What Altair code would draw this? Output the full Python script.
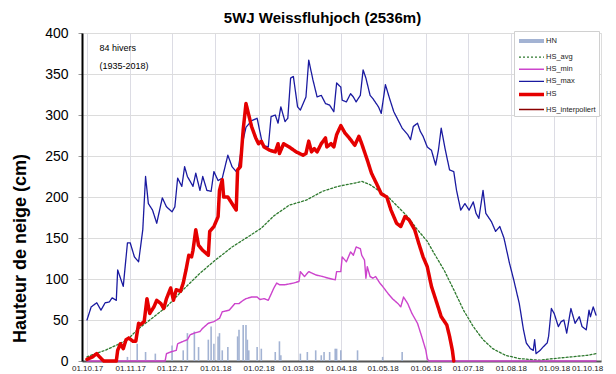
import altair as alt
import pandas as pd

START = "2017-10-01"

SERIES = ["HN", "HS_avg", "HS_min", "HS_max", "HS", "HS_interpoliert"]
COLORS = ["#a3b3d3", "#2f7a2f", "#cc44cc", "#1a1aa0", "#e50000", "#8b0000"]
DASHES = [[1, 0], [2, 2], [1, 0], [1, 0], [1, 0], [1, 0]]
WIDTHS = [4, 1.3, 1.4, 1.3, 3.5, 1.3]

hs_max_days = [0, 3, 7, 10, 13, 16, 18, 21, 22, 26, 29, 31, 34, 37, 40, 42, 44, 47, 50, 54, 57, 61, 63, 65, 68, 70, 72, 76, 78, 81, 83, 86, 89, 91, 94, 97, 101, 104, 108, 111, 114, 118, 122, 126, 130, 132, 135, 137, 139, 142, 144, 146, 148, 151, 153, 157, 159, 162, 165, 168, 171, 174, 177, 179, 182, 183, 186, 189, 191, 193, 196, 198, 200, 203, 205, 209, 211, 214, 217, 220, 223, 226, 230, 232, 234, 237, 239, 241, 244, 247, 250, 252, 254, 257, 260, 263, 265, 268, 271, 274, 277, 279, 281, 284, 286, 290, 293, 296, 299, 303, 306, 310, 313, 315, 318, 320, 321, 322, 325, 327, 330, 331, 333, 335, 338, 340, 342, 344, 347, 350, 353, 355, 358, 360, 361, 363, 365]
hs_max_vals = [50, 66, 71, 62, 71, 72, 77, 74, 111, 91, 144, 144, 127, 121, 160, 225, 192, 184, 168, 199, 188, 182, 188, 223, 213, 237, 225, 213, 229, 208, 225, 208, 207, 231, 220, 223, 251, 237, 229, 262, 285, 293, 296, 263, 261, 298, 300, 290, 310, 292, 296, 345, 347, 310, 306, 322, 367, 343, 322, 324, 314, 312, 304, 339, 334, 318, 316, 326, 322, 316, 324, 355, 345, 324, 320, 310, 302, 337, 320, 304, 294, 284, 276, 270, 286, 290, 280, 274, 261, 257, 239, 257, 284, 257, 233, 231, 208, 184, 192, 184, 194, 180, 174, 208, 180, 170, 158, 164, 150, 119, 99, 70, 38, 22, 15, 13, 26, 9, 13, 17, 22, 30, 64, 58, 42, 48, 50, 34, 64, 46, 54, 42, 38, 62, 54, 66, 56]

hs_days = [0, 4, 7, 9, 12, 21, 22, 24, 26, 28, 30, 33, 35, 37, 38, 41, 43, 45, 48, 50, 53, 55, 57, 60, 62, 64, 67, 69, 71, 73, 75, 76, 78, 80, 83, 87, 88, 91, 94, 95, 97, 98, 101, 104, 107, 108, 110, 112, 114, 116, 118, 121, 123, 125, 127, 131, 135, 137, 138, 141, 145, 150, 155, 157, 159, 161, 163, 165, 168, 171, 172, 175, 177, 179, 182, 185, 189, 192, 195, 197, 201, 204, 208, 211, 215, 218, 222, 225, 228, 231, 235, 238, 241, 244, 247, 251, 254, 258, 260, 262, 263]
hs_vals = [2, 5, 9, 5, 0, 0, 13, 21, 15, 26, 28, 24, 24, 46, 44, 48, 76, 58, 66, 74, 70, 64, 76, 89, 74, 87, 85, 95, 111, 129, 127, 135, 160, 141, 135, 129, 158, 164, 176, 208, 221, 200, 200, 192, 184, 233, 237, 282, 314, 300, 286, 272, 265, 268, 261, 257, 255, 265, 253, 265, 261, 255, 251, 253, 268, 255, 259, 255, 265, 272, 261, 265, 261, 276, 287, 278, 270, 263, 274, 265, 245, 229, 215, 204, 200, 184, 168, 164, 176, 172, 160, 143, 127, 115, 91, 70, 54, 44, 30, 13, 0]

hs_min_days = [0, 56, 57, 60, 64, 65, 69, 72, 74, 77, 81, 83, 87, 91, 95, 97, 102, 106, 109, 112, 114, 118, 122, 124, 127, 130, 134, 136, 138, 142, 148, 152, 153, 156, 159, 164, 169, 173, 178, 179, 182, 183, 186, 189, 191, 193, 196, 197, 199, 200, 201, 203, 205, 207, 210, 212, 216, 219, 223, 225, 227, 230, 233, 237, 240, 243, 244, 245, 365]
hs_min_vals = [0, 0, 9, 11, 13, 21, 24, 26, 32, 34, 36, 40, 46, 48, 52, 60, 62, 70, 70, 74, 76, 78, 78, 75, 76, 74, 89, 95, 93, 93, 95, 97, 109, 103, 109, 105, 103, 101, 99, 109, 109, 127, 121, 133, 129, 139, 137, 129, 123, 101, 115, 103, 101, 103, 95, 91, 82, 76, 70, 66, 78, 70, 58, 46, 30, 13, 3, 0, 0]

hs_avg_days = [0, 6, 13, 22, 29, 36, 45, 57, 69, 81, 92, 104, 116, 125, 134, 145, 157, 169, 180, 192, 197, 203, 209, 216, 223, 230, 237, 244, 249, 256, 263, 270, 277, 284, 291, 300, 310, 324, 335, 347, 359, 365]
hs_avg_vals = [5, 9, 13, 20, 26, 38, 50, 66, 87, 107, 123, 139, 152, 162, 177, 190, 196, 207, 213, 217, 219, 215, 208, 200, 188, 176, 160, 146, 131, 111, 87, 62, 42, 26, 15, 7, 3, 1, 3, 5, 7, 9]

hn_days = [29, 36, 42, 49, 61, 69, 72, 77, 80, 87, 89, 91, 94, 95, 97, 101, 108, 109, 112, 114, 115, 116, 122, 125, 135, 138, 139, 153, 158, 164, 168, 170, 174, 178, 179, 182, 194, 212, 226]
hn_vals = [5, 21, 11, 9, 19, 13, 34, 36, 17, 26, 42, 21, 30, 34, 13, 17, 30, 38, 44, 44, 26, 13, 17, 15, 11, 24, 7, 9, 11, 13, 7, 11, 11, 15, 15, 13, 13, 5, 11]

note_days = [9, 9]
note_vals = [382, 360]
note_texts = ["84 hivers", "(1935-2018)"]

MONTHS = [(2017, 10), (2017, 11), (2017, 12), (2018, 1), (2018, 2), (2018, 3), (2018, 4),
          (2018, 5), (2018, 6), (2018, 7), (2018, 8), (2018, 9), (2018, 10)]


def frame(name, days, vals):
    return pd.DataFrame({
        "date": pd.Timestamp(START) + pd.to_timedelta(days, unit="D"),
        "value": vals,
        "series": name,
    })


df = pd.concat([
    frame("HN", hn_days, hn_vals),
    frame("HS_avg", hs_avg_days, hs_avg_vals),
    frame("HS_min", hs_min_days, hs_min_vals),
    frame("HS_max", hs_max_days, hs_max_vals),
    frame("HS", hs_days, hs_vals),
], ignore_index=True)

notes = pd.DataFrame({
    "date": pd.Timestamp(START) + pd.to_timedelta(note_days, unit="D"),
    "value": note_vals,
    "text": note_texts,
})

FONT = "Liberation Sans"

x_enc = alt.X(
    "date:T",
    scale=alt.Scale(domain=[alt.DateTime(year=2017, month=10, date=1),
                            alt.DateTime(year=2018, month=10, date=1)]),
    axis=alt.Axis(
        values=[alt.DateTime(year=y, month=m, date=1) for y, m in MONTHS],
        format="%d.%m.%y", title=None, labelAngle=0, labelFlush=False,
        labelOverlap=False, labelFontSize=8, labelFont=FONT, labelColor="#222222",
        labelOffset={"condition": {"test": "year(datum.value) == 2018 && month(datum.value) == 9",
                                   "value": -9}, "value": 0},
        tickSize=0, labelPadding=3, grid=True, gridColor="#dcdce4",
        domainColor="#555555", domainWidth=2,
    ),
)
y_enc = alt.Y(
    "value:Q",
    scale=alt.Scale(domain=[0, 400], nice=False),
    axis=alt.Axis(
        values=list(range(0, 401, 50)), title="Hauteur de neige (cm)",
        titleFont=FONT, titleFontSize=18, titleFontWeight="bold", titleColor="black",
        titleAngle=270, titleAlign="center", titleBaseline="alphabetic",
        titleX=-57, titleY=215,
        labelFont=FONT, labelFontSize=14, labelColor="black", labelPadding=10,
        tickSize=4, tickColor="#999999", grid=True, gridColor="#dcdcdc",
        domainColor="black", domainWidth=2,
    ),
)

LEG = alt.Legend(
    title=None, orient="none", legendX=432, legendY=-2, padding=3,
    fillColor="white", strokeColor="#d0d0d0", symbolType="M-2.5,0H2.5",
    symbolSize=100, symbolOffset=7.5, labelFontSize=7.5, labelFont=FONT,
    labelColor="#222222", labelOffset=7.5, rowPadding=2.1,
)

color_enc = alt.Color("series:N", scale=alt.Scale(domain=SERIES, range=COLORS), legend=LEG)
dash_enc = alt.StrokeDash("series:N", scale=alt.Scale(domain=SERIES, range=DASHES), legend=LEG)
width_enc = alt.StrokeWidth("series:N", scale=alt.Scale(type="ordinal", domain=SERIES, range=WIDTHS), legend=LEG)

base = alt.Chart(df)

bars = base.transform_filter(alt.datum.series == "HN").mark_bar(size=1.6).encode(
    x=x_enc, y=y_enc, color=color_enc
)

layers = [bars]
for s in ["HS_avg", "HS_min", "HS_max", "HS"]:
    layers.append(
        base.transform_filter(alt.datum.series == s)
        .mark_line(strokeJoin="round", strokeCap="round")
        .encode(x=x_enc, y=y_enc, color=color_enc, strokeDash=dash_enc, strokeWidth=width_enc)
    )

text = alt.Chart(notes).mark_text(align="left", baseline="middle", font=FONT, fontSize=9, color="black").encode(
    x="date:T", y="value:Q", text="text:N"
)
layers.append(text)

chart = alt.layer(*layers).properties(
    width=519, height=328,
    title=alt.Title("5WJ Weissfluhjoch (2536m)", font=FONT, fontSize=15, fontWeight="bold",
                    color="black", anchor="middle", frame="group", dx=-19, dy=8, offset=8),
    autosize=alt.AutoSizeParams(type="none"),
    padding={"left": 74, "top": 25, "right": 7, "bottom": 12},
).configure_view(stroke="#777777", strokeWidth=1).configure(background="white")

chart.save("out.html", embed_options={"renderer": "svg", "actions": False})
